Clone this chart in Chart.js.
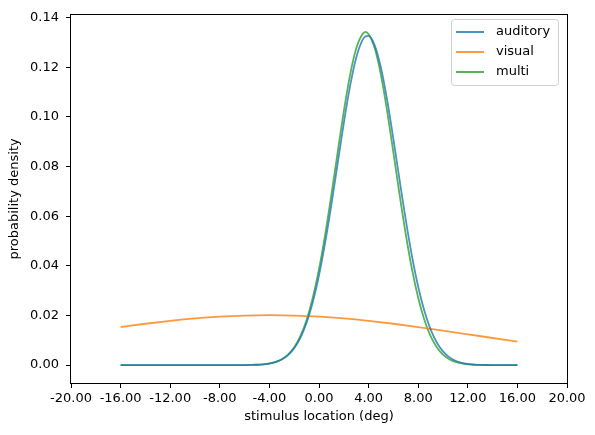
<!DOCTYPE html>
<html>
<head>
<meta charset="utf-8">
<script src="https://cdn.jsdelivr.net/npm/chart.js@4/dist/chart.umd.min.js"></script>
<style>
  html, body { margin: 0; padding: 0; background: #fff; }
  canvas { display: block; }
</style>
</head>
<body>
<canvas id="densityChart" width="595" height="435"></canvas>
<script>
// stimulus locations (deg) for the narrow curves
const stimulusFine = [-16, -14, -12, -10, -8, -7,
  -6, -5.5, -5, -4.5, -4, -3.5, -3, -2.5, -2, -1.5, -1, -0.5,
  0, 0.5, 1, 1.5, 2, 2.5, 3, 3.5, 3.75, 4,
  4.5, 5, 5.5, 6, 6.5, 7, 7.5, 8, 8.5, 9, 9.5, 10, 10.5, 11, 11.5, 12, 12.5, 13, 13.5, 14,
  15, 16];

const auditoryDensity = [0, 0, 0, 0, 0, 0,
  0.00003, 0.00007, 0.00015, 0.00032, 0.00064, 0.00123, 0.00227, 0.00400, 0.00677, 0.01098, 0.01705, 0.02537,
  0.03616, 0.04941, 0.06468, 0.08111, 0.09748, 0.11224, 0.12382, 0.13090, 0.13245, 0.13259,
  0.12868, 0.11967, 0.10663, 0.09103, 0.07447, 0.05836, 0.04383, 0.03154, 0.02175, 0.01437, 0.00910,
  0.00552, 0.00321, 0.00178, 0.00095, 0.00049, 0.00024, 0.00011, 0.00005, 0.00002,
  0, 0];

const multiDensity = [0, 0, 0, 0, 0, 0,
  0.00003, 0.00007, 0.00015, 0.00032, 0.00066, 0.00128, 0.00238, 0.00423, 0.00719, 0.01169, 0.01820, 0.02711,
  0.03861, 0.05262, 0.06862, 0.08561, 0.10219, 0.11670, 0.12749, 0.13326, 0.13420, 0.13326,
  0.12749, 0.11670, 0.10219, 0.08561, 0.06862, 0.05262, 0.03861, 0.02711, 0.01820, 0.01169, 0.00719,
  0.00423, 0.00238, 0.00128, 0.00066, 0.00032, 0.00015, 0.00007, 0.00003, 0,
  0, 0];

// the visual curve is wide, a coarser grid is enough
const stimulusCoarse = [-16, -14, -12, -10, -8, -6, -4, -2, 0, 2, 4, 6, 8, 10, 12, 14, 16];
const visualDensity = [0.01533, 0.01666, 0.01782, 0.01879, 0.01951, 0.01995, 0.02010, 0.01995,
  0.01951, 0.01879, 0.01782, 0.01666, 0.01533, 0.01391, 0.01242, 0.01093, 0.00948];

const seriesLabels = ['auditory', 'visual', 'multi'];
const xTickValues = [-20, -16, -12, -8, -4, 0, 4, 8, 12, 16, 20];
const yTickValues = [0, 0.02, 0.04, 0.06, 0.08, 0.10, 0.12, 0.14];

function toPoints(xs, ys) {
    return xs.map((x, i) => ({x: x, y: ys[i]}));
}

const fontFamily = '"DejaVu Sans", sans-serif';

const frameAndLegend = {
    id: 'frameAndLegend',
    afterDraw(chart) {
        const ctx = chart.ctx;
        const a = chart.chartArea;
        ctx.save();
        // all four spines
        ctx.strokeStyle = '#000';
        ctx.lineWidth = 1;
        ctx.strokeRect(Math.round(a.left) - 0.5, Math.round(a.top) - 0.5,
            Math.round(a.right - a.left) + 1, Math.round(a.bottom - a.top) + 1);

        // legend in the upper right corner
        const bx = 451.5, by = 19.5, bw = 107, bh = 66;
        ctx.beginPath();
        ctx.roundRect(bx, by, bw, bh, 3);
        ctx.fillStyle = 'rgba(255,255,255,0.8)';
        ctx.fill();
        ctx.strokeStyle = '#d0d0d0';
        ctx.lineWidth = 1;
        ctx.stroke();

        ctx.font = '13px ' + fontFamily;
        ctx.textBaseline = 'middle';
        ctx.textAlign = 'left';
        chart.data.datasets.forEach((ds, i) => {
            const ry = 32 + i * 20;
            ctx.strokeStyle = ds.borderColor;
            ctx.lineWidth = 2;
            ctx.beginPath();
            ctx.moveTo(456, ry);
            ctx.lineTo(484, ry);
            ctx.stroke();
            ctx.fillStyle = '#000';
            ctx.fillText(ds.label, 496, ry);
        });
        ctx.restore();
    }
};

const lineConfig = {
    type: 'line',
    data: {
        datasets: [
            {
                label: seriesLabels[0],
                data: toPoints(stimulusFine, auditoryDensity),
                borderColor: 'rgba(31,119,180,0.8)'
            },
            {
                label: seriesLabels[1],
                data: toPoints(stimulusCoarse, visualDensity),
                borderColor: 'rgba(255,127,14,0.8)'
            },
            {
                label: seriesLabels[2],
                data: toPoints(stimulusFine, multiDensity),
                borderColor: 'rgba(44,160,44,0.8)'
            }
        ]
    },
    options: {
        responsive: false,
        animation: false,
        events: [],
        layout: {padding: {left: 0, top: 12, right: 28, bottom: 0}},
        elements: {
            point: {radius: 0},
            line: {borderWidth: 1.8, cubicInterpolationMode: 'monotone', fill: false}
        },
        plugins: {
            legend: {display: false},
            tooltip: {enabled: false}
        },
        scales: {
            x: {
                type: 'linear',
                min: -20,
                max: 20,
                afterBuildTicks: axis => { axis.ticks = xTickValues.map(v => ({value: v})); },
                afterFit: axis => { axis.height = 52; },
                grid: {drawOnChartArea: false, drawTicks: true, tickLength: 5, color: '#000'},
                border: {display: false},
                ticks: {
                    color: '#000',
                    padding: 3,
                    maxRotation: 0,
                    font: {family: fontFamily, size: 13},
                    callback: v => v.toFixed(2)
                },
                title: {
                    display: true,
                    text: 'stimulus location (deg)',
                    color: '#000',
                    font: {family: fontFamily, size: 13},
                    padding: {top: 0, bottom: 10.5}
                }
            },
            y: {
                min: -0.0072,
                max: 0.1411,
                afterBuildTicks: axis => { axis.ticks = yTickValues.map(v => ({value: v})); },
                afterFit: axis => { axis.width = 71; },
                grid: {drawOnChartArea: false, drawTicks: true, tickLength: 5, color: '#000'},
                border: {display: false},
                ticks: {
                    color: '#000',
                    padding: 7,
                    font: {family: fontFamily, size: 13},
                    callback: v => v.toFixed(2)
                },
                title: {
                    display: true,
                    text: 'probability density',
                    color: '#000',
                    font: {family: fontFamily, size: 13},
                    padding: {top: 7.2, bottom: 0}
                }
            }
        }
    },
    plugins: [frameAndLegend]
};

let densityChart = new Chart(document.getElementById('densityChart'), lineConfig);
</script>
</body>
</html>
